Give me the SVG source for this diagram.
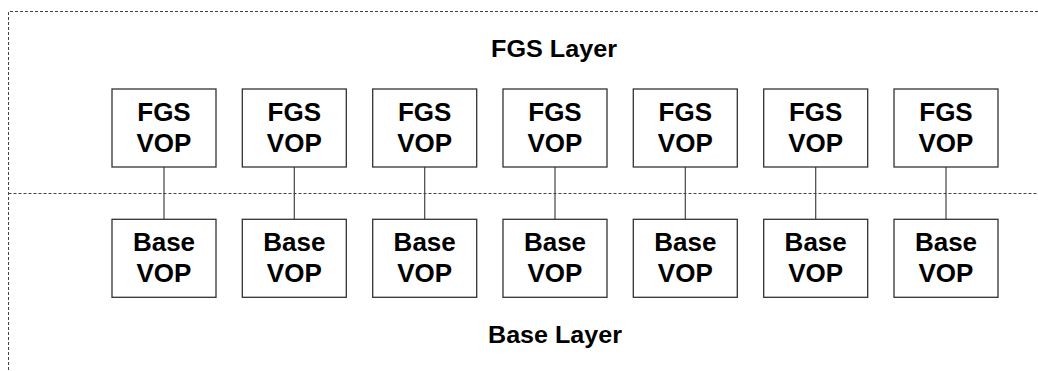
<svg xmlns="http://www.w3.org/2000/svg" width="1038" height="371" viewBox="0 0 1038 371">
<style>
.box{fill:#fff;stroke:#333;stroke-width:1.3}
.dash{fill:none;stroke:#444;stroke-width:1;stroke-dasharray:3 2}
.con{stroke:#444;stroke-width:1.2}
.t{font-family:"Liberation Sans",Arial,sans-serif;font-weight:bold;font-size:26px;text-anchor:middle;fill:#000}
.title{font-family:"Liberation Sans",Arial,sans-serif;font-weight:bold;font-size:23px;fill:#000}
</style>
<rect width="1038" height="371" fill="#fff"/>
<g id="layers">
<path class="dash" d="M8.5,380 V11.5 H1045"/>
<path class="dash" d="M8.5,193.5 H1045"/>
<text class="title" x="491" y="57" textLength="126" lengthAdjust="spacingAndGlyphs">FGS Layer</text>
<text class="title" x="488" y="342.5" textLength="134" lengthAdjust="spacingAndGlyphs">Base Layer</text>
</g>
<g id="connectors">
<line class="con" x1="164" y1="167" x2="164" y2="219"/>
<line class="con" x1="294.3" y1="167" x2="294.3" y2="219"/>
<line class="con" x1="424.7" y1="167" x2="424.7" y2="219"/>
<line class="con" x1="555" y1="167" x2="555" y2="219"/>
<line class="con" x1="685.3" y1="167" x2="685.3" y2="219"/>
<line class="con" x1="815.7" y1="167" x2="815.7" y2="219"/>
<line class="con" x1="946" y1="167" x2="946" y2="219"/>
</g>
<g id="fgs1"><rect class="box" x="112" y="89" width="104" height="78"/><text class="t" x="164" y="120.7">FGS</text><text class="t" x="164" y="152">VOP</text></g>
<g id="fgs2"><rect class="box" x="242.3" y="89" width="104" height="78"/><text class="t" x="294.3" y="120.7">FGS</text><text class="t" x="294.3" y="152">VOP</text></g>
<g id="fgs3"><rect class="box" x="372.7" y="89" width="104" height="78"/><text class="t" x="424.7" y="120.7">FGS</text><text class="t" x="424.7" y="152">VOP</text></g>
<g id="fgs4"><rect class="box" x="503" y="89" width="104" height="78"/><text class="t" x="555" y="120.7">FGS</text><text class="t" x="555" y="152">VOP</text></g>
<g id="fgs5"><rect class="box" x="633.3" y="89" width="104" height="78"/><text class="t" x="685.3" y="120.7">FGS</text><text class="t" x="685.3" y="152">VOP</text></g>
<g id="fgs6"><rect class="box" x="763.7" y="89" width="104" height="78"/><text class="t" x="815.7" y="120.7">FGS</text><text class="t" x="815.7" y="152">VOP</text></g>
<g id="fgs7"><rect class="box" x="894" y="89" width="104" height="78"/><text class="t" x="946" y="120.7">FGS</text><text class="t" x="946" y="152">VOP</text></g>
<g id="base1"><rect class="box" x="112" y="219.3" width="104" height="78"/><text class="t" x="164" y="251">Base</text><text class="t" x="164" y="282">VOP</text></g>
<g id="base2"><rect class="box" x="242.3" y="219.3" width="104" height="78"/><text class="t" x="294.3" y="251">Base</text><text class="t" x="294.3" y="282">VOP</text></g>
<g id="base3"><rect class="box" x="372.7" y="219.3" width="104" height="78"/><text class="t" x="424.7" y="251">Base</text><text class="t" x="424.7" y="282">VOP</text></g>
<g id="base4"><rect class="box" x="503" y="219.3" width="104" height="78"/><text class="t" x="555" y="251">Base</text><text class="t" x="555" y="282">VOP</text></g>
<g id="base5"><rect class="box" x="633.3" y="219.3" width="104" height="78"/><text class="t" x="685.3" y="251">Base</text><text class="t" x="685.3" y="282">VOP</text></g>
<g id="base6"><rect class="box" x="763.7" y="219.3" width="104" height="78"/><text class="t" x="815.7" y="251">Base</text><text class="t" x="815.7" y="282">VOP</text></g>
<g id="base7"><rect class="box" x="894" y="219.3" width="104" height="78"/><text class="t" x="946" y="251">Base</text><text class="t" x="946" y="282">VOP</text></g>
</svg>
